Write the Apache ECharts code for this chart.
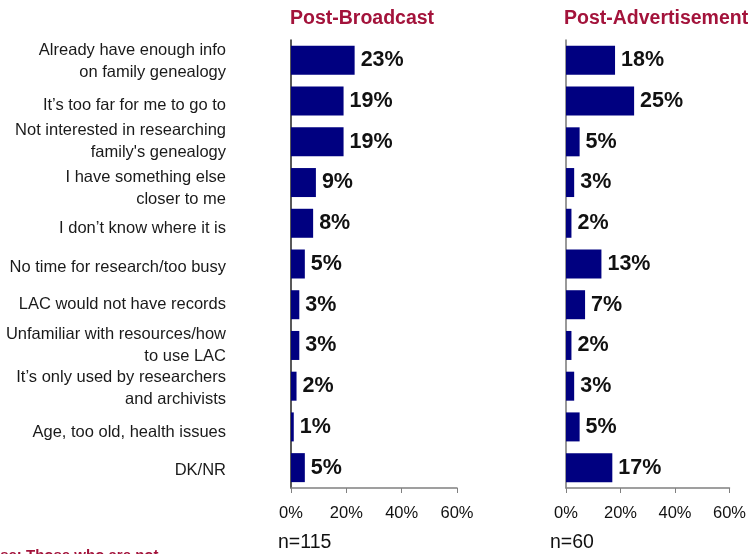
<!DOCTYPE html>
<html>
<head>
<meta charset="utf-8">
<script src="https://cdn.jsdelivr.net/npm/echarts@6/dist/echarts.min.js"></script>
<style>
  html, body { margin: 0; padding: 0; background: #fff; }
  #chart { width: 749px; height: 554px; }
</style>
</head>
<body>
<div id="chart"></div>
<script>
// Reasons for not visiting, by survey wave
const reasons = [
  'Already have enough info\non family genealogy',
  'It\u2019s too far for me to go to',
  'Not interested in researching\nfamily\'s genealogy',
  'I have something else\ncloser to me',
  'I don\u2019t know where it is',
  'No time for research/too busy',
  'LAC would not have records',
  'Unfamiliar with resources/how\nto use LAC',
  'It\u2019s only used by researchers\nand archivists',
  'Age, too old, health issues',
  'DK/NR'
];
const postBroadcast = [23, 19, 19, 9, 8, 5, 3, 3, 2, 1, 5];
const postAdvertisement = [18, 25, 5, 3, 2, 13, 7, 2, 3, 5, 17];
const panelTitles = ['Post-Broadcast', 'Post-Advertisement'];
const sampleSizes = ['n=115', 'n=60'];
const xTicks = [0, 20, 40, 60];

// Layout: small downward nudges (px) for the category text blocks
const labelShift = [1, 4, 0, 6, 5, 3, 0, 0, 2, 6, 3];

const FONT = '"Liberation Sans", Arial, sans-serif';
const RED = '#a3133b';
const NAVY = '#000080';
const LABEL_RIGHT = 226;

const chart = echarts.init(document.getElementById('chart'), null, { renderer: 'canvas' });

const grids = [
  { left: 291, top: 40, width: 166, height: 448 },
  { left: 566, top: 40, width: 166, height: 448 }
];

function xAxisFor(i) {
  return {
    type: 'value', gridIndex: i, min: xTicks[0], max: xTicks[xTicks.length - 1],
    interval: 20,
    axisLine: { show: true, lineStyle: { color: '#808080', width: 1.5 } },
    axisTick: { show: true, length: 5, lineStyle: { color: '#808080' } },
    splitLine: { show: false },
    axisLabel: { formatter: '{value}%', color: '#111', fontSize: 16.5, fontFamily: FONT, margin: 17 }
  };
}

function yAxisFor(i) {
  return {
    type: 'category', gridIndex: i, data: reasons, inverse: true,
    axisLine: { show: true, lineStyle: { color: i === 0 ? '#222' : '#777', width: 1.5 } },
    axisTick: { show: false },
    axisLabel: { show: false }
  };
}

function barSeries(i, values) {
  return {
    type: 'bar', xAxisIndex: i, yAxisIndex: i, data: values,
    barWidth: 29,
    itemStyle: { color: NAVY },
    label: {
      show: true, position: 'right', distance: 6,
      formatter: '{c}%', color: '#111', fontSize: 21.5, fontWeight: 'bold', fontFamily: FONT
    },
    animation: false
  };
}

const headerText = [
  { type: 'text', left: 290, top: 9, style: { text: panelTitles[0], fill: RED, font: 'bold 19.5px ' + FONT } },
  { type: 'text', left: 564, top: 9, style: { text: panelTitles[1], fill: RED, font: 'bold 19.5px ' + FONT } },
  { type: 'text', left: 278, top: 533, style: { text: sampleSizes[0], fill: '#111', font: '19.5px ' + FONT } },
  { type: 'text', left: 550, top: 533, style: { text: sampleSizes[1], fill: '#111', font: '19.5px ' + FONT } },
  { type: 'text', x: -19, y: 548, style: { text: 'Base: Those who are not', fill: RED, font: 'bold 15px ' + FONT } }
];

chart.setOption({
  animation: false,
  grid: grids,
  xAxis: [xAxisFor(0), xAxisFor(1)],
  yAxis: [yAxisFor(0), yAxisFor(1)],
  series: [barSeries(0, postBroadcast), barSeries(1, postAdvertisement)],
  graphic: headerText
});

// Category labels placed at each band centre from the category axis
const categoryText = reasons.map((r, k) => {
  const y = chart.convertToPixel({ yAxisIndex: 0 }, r);
  return {
    type: 'text', x: LABEL_RIGHT, y: y + labelShift[k],
    style: {
      text: r, fill: '#1a1a1a', font: '16.5px ' + FONT,
      align: 'right', verticalAlign: 'middle', lineHeight: 22
    }
  };
});

chart.setOption({ graphic: headerText.concat(categoryText) });
</script>
</body>
</html>
